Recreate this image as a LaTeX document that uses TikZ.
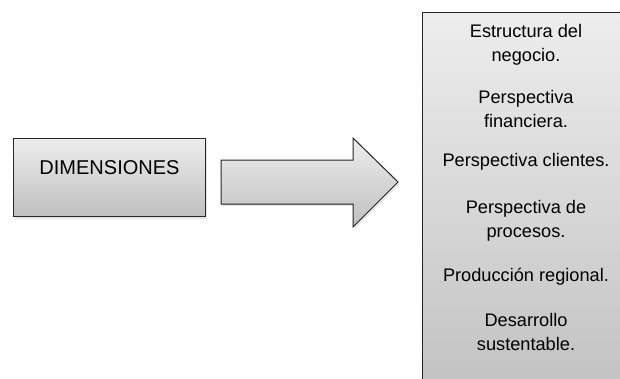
\documentclass[tikz,border=0pt]{standalone}
\usepackage{fontspec}
\setmainfont{Liberation Sans}
\usetikzlibrary{shadows}
\tikzset{
  graybox/.style={draw=black!85,line width=1pt,top color=black!7,bottom color=black!25,
    drop shadow={shadow xshift=1.5pt,shadow yshift=-2pt,opacity=0.2}},
  item/.style={align=center,font=\fontsize{18.2}{24}\selectfont}
}
\begin{document}
\begin{tikzpicture}[x=1pt,y=-1pt]
    \useasboundingbox (0,0) rectangle (620,378);
    \clip (0,0) rectangle (620,378);
    \node[graybox,anchor=north west,inner sep=0,text width=192pt,align=center,
      text height=36pt,text depth=42pt,font=\fontsize{20}{24}\selectfont](dim)at(13,138){DIMENSIONES};
    \filldraw[graybox](221,160)--(353,160)--(353,138)--(398,182)--(353,227)--(353,204)--(221,204)--cycle;
    \node[graybox,anchor=north west,minimum width=230pt,minimum height=400pt](list)at(422,12){};
    \foreach \y/\t [count=\i] in {45/{Estructura del\\negocio.},109/{Perspectiva\\financiera.},
      162/{Perspectiva clientes.},221/{Perspectiva de\\procesos.},277/{Producción regional.},
      332/{Desarrollo\\sustentable.}}{
    \node[item](p\i)at(526,\y){\t};}
\end{tikzpicture}
\end{document}
